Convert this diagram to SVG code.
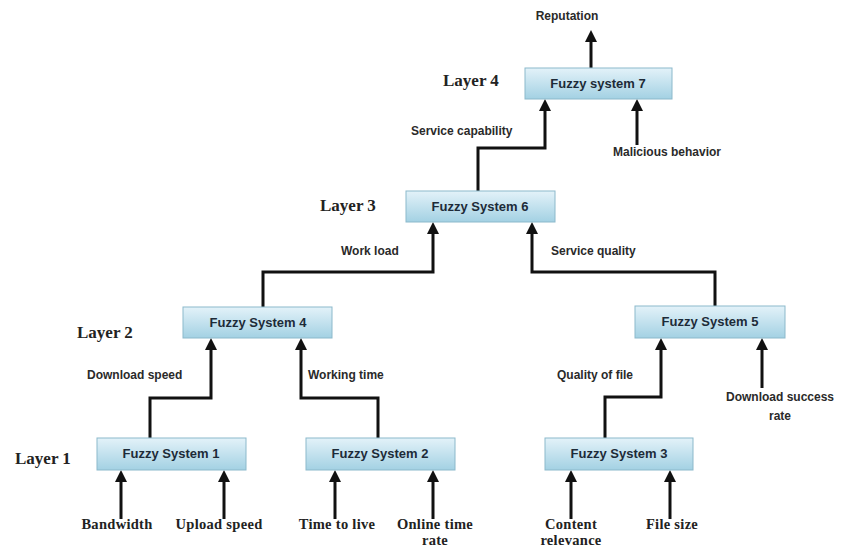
<svg xmlns="http://www.w3.org/2000/svg" width="845" height="550" viewBox="0 0 845 550">
<defs>
<linearGradient id="boxg" x1="0" y1="0" x2="0" y2="1">
<stop offset="0" stop-color="#e3f2f9"/>
<stop offset="1" stop-color="#a3d1e3"/>
</linearGradient>
<marker id="arr" markerUnits="userSpaceOnUse" markerWidth="12" markerHeight="12" refX="3" refY="6" orient="auto">
<path d="M0,0 L12,6 L0,12 z" fill="#111"/>
</marker>
<style>
.box{fill:url(#boxg);stroke:#8cb9cb;stroke-width:1}
.bt{font-family:"Liberation Sans",Arial,sans-serif;font-weight:bold;font-size:13px;fill:#1d2b38;text-anchor:middle}
.lb{font-family:"Liberation Sans",Arial,sans-serif;font-weight:bold;font-size:12px;fill:#2a2a2a}
.ly{font-family:"Liberation Serif","Times New Roman",serif;font-weight:bold;font-size:17px;fill:#222}
.in{font-family:"Liberation Serif","Times New Roman",serif;font-weight:bold;font-size:14.5px;fill:#222;text-anchor:middle;letter-spacing:0.3px}
.c{fill:none;stroke:#111;stroke-width:3;marker-end:url(#arr)}
</style>
</defs>
<rect width="845" height="550" fill="#ffffff"/>

<g id="connectors">
<path class="c" d="M591,68 V39"/>
<path class="c" d="M478,191 V148 H545 V108"/>
<path class="c" d="M637,145 V108"/>
<path class="c" d="M263,307 V272 H433 V231"/>
<path class="c" d="M715,306 V272 H532 V231"/>
<path class="c" d="M150,438 V398 H211 V347"/>
<path class="c" d="M378,438 V398 H301 V347"/>
<path class="c" d="M605,438 V397 H661 V347"/>
<path class="c" d="M762,388 V347"/>
<path class="c" d="M121,519 V479"/>
<path class="c" d="M224,519 V479"/>
<path class="c" d="M335,519 V479"/>
<path class="c" d="M433,519 V479"/>
<path class="c" d="M571,519 V479"/>
<path class="c" d="M670,519 V479"/>
</g>

<g id="labels">
<text class="lb" x="567" y="20" text-anchor="middle">Reputation</text>
<text class="lb" x="411" y="135">Service capability</text>
<text class="lb" x="667" y="156" text-anchor="middle">Malicious behavior</text>
<text class="lb" x="341" y="255">Work load</text>
<text class="lb" x="551" y="255">Service quality</text>
<text class="lb" x="87" y="379">Download speed</text>
<text class="lb" x="308" y="379">Working time</text>
<text class="lb" x="557" y="379">Quality of file</text>
<text class="lb" x="780" y="401" text-anchor="middle">Download success</text>
<text class="lb" x="780" y="420" text-anchor="middle">rate</text>
<text class="ly" x="443" y="86">Layer 4</text>
<text class="ly" x="320" y="211">Layer 3</text>
<text class="ly" x="77" y="338">Layer 2</text>
<text class="ly" x="15" y="464">Layer 1</text>
<text class="in" x="117" y="529">Bandwidth</text>
<text class="in" x="219" y="529">Upload speed</text>
<text class="in" x="337" y="529">Time to live</text>
<text class="in" x="435" y="529">Online time</text>
<text class="in" x="435" y="545">rate</text>
<text class="in" x="571" y="529">Content</text>
<text class="in" x="571" y="545">relevance</text>
<text class="in" x="672" y="529">File size</text>
</g>

<g id="fs7"><rect class="box" x="525" y="68" width="147" height="31"/><text class="bt" x="598" y="88">Fuzzy system 7</text></g>
<g id="fs6"><rect class="box" x="406" y="191" width="149" height="31"/><text class="bt" x="480" y="211">Fuzzy System 6</text></g>
<g id="fs4"><rect class="box" x="183" y="307" width="149" height="31"/><text class="bt" x="258" y="327">Fuzzy System 4</text></g>
<g id="fs5"><rect class="box" x="635" y="306" width="150" height="32"/><text class="bt" x="710" y="326">Fuzzy System 5</text></g>
<g id="fs1"><rect class="box" x="97" y="438" width="149" height="32"/><text class="bt" x="171" y="458">Fuzzy System 1</text></g>
<g id="fs2"><rect class="box" x="306" y="438" width="149" height="32"/><text class="bt" x="380" y="458">Fuzzy System 2</text></g>
<g id="fs3"><rect class="box" x="545" y="438" width="148" height="32"/><text class="bt" x="619" y="458">Fuzzy System 3</text></g>
</svg>
